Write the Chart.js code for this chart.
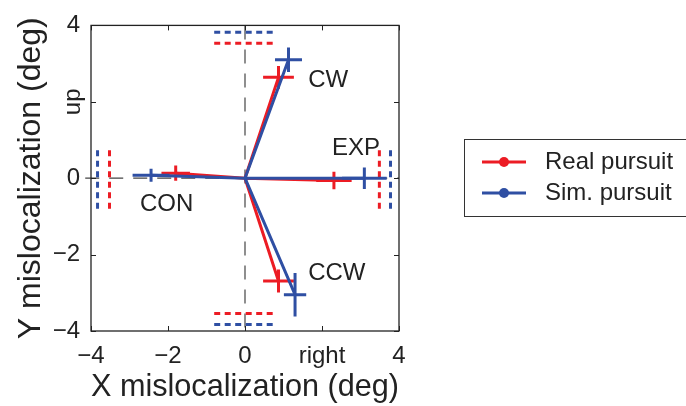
<!DOCTYPE html>
<html>
<head>
<meta charset="utf-8">
<script src="https://cdn.jsdelivr.net/npm/chart.js@4.4.1/dist/chart.umd.min.js"></script>
<style>
  html, body { margin: 0; padding: 0; background: #fff; }
</style>
</head>
<body>
<canvas id="chart" width="686" height="406"></canvas>
<script>
// conditions, in the order CW, EXP, CCW, CON
const conditions = ['CW', 'EXP', 'CCW', 'CON'];
const seriesNames = ['Real pursuit', 'Sim. pursuit'];

const realX = [0.87, 2.31, 0.87, -1.8];
const realY = [2.64, -0.06, -2.69, 0.13];
const realErrX = [0.4, 0.46, 0.4, 0.37];
const realErrY = [0.3, 0.23, 0.3, 0.2];

const simX = [1.13, 3.1, 1.3, -2.44];
const simY = [3.1, 0.0, -3.05, 0.08];
const simErrX = [0.35, 0.58, 0.29, 0.48];
const simErrY = [0.32, 0.28, 0.57, 0.17];

// dotted reference marks: top (y), right (x), bottom (y), left (x)
const realRef = [3.53, 3.49, -3.54, -3.52];
const simRef = [3.82, 3.78, -3.83, -3.83];
const refHalf = 0.8;

// where the condition names sit (left edge, middle)
const labelX = [1.64, 2.26, 1.64, -2.73];
const labelY = [2.57, 0.77, -2.5, -0.69];

const tickValues = [-4, -2, 0, 2, 4];
const xTickLabels = ['\u22124', '\u22122', '0', 'right', '4'];
const yTickLabels = ['\u22124', '\u22122', '0', 'up', '4'];

const RED = '#ec1c24';
const BLUE = '#2f4fa3';
const INK = '#222';
const FONT = '"Liberation Sans", Arial, Helvetica, sans-serif';

function star(xs, ys) {
  const pts = [];
  xs.forEach((x, i) => {
    pts.push({x: 0, y: 0}, {x: x, y: ys[i]}, {x: x, y: null});
  });
  return pts;
}

function crosses(xs, ys, ex, ey) {
  const pts = [];
  xs.forEach((x, i) => {
    pts.push({x: x - ex[i], y: ys[i]}, {x: x + ex[i], y: ys[i]}, {x: x, y: null});
    pts.push({x: x, y: ys[i] - ey[i]}, {x: x, y: ys[i] + ey[i]}, {x: x, y: null});
  });
  return pts;
}

function refMarks(p) {
  return [
    {x: -refHalf, y: p[0]}, {x: refHalf, y: p[0]}, {x: 0, y: null},
    {x: p[1], y: -refHalf}, {x: p[1], y: refHalf}, {x: 0, y: null},
    {x: -refHalf, y: p[2]}, {x: refHalf, y: p[2]}, {x: 0, y: null},
    {x: p[3], y: -refHalf}, {x: p[3], y: refHalf}
  ];
}

const lineDs = (data, color, width, extra) => Object.assign({
  data: data, borderColor: color, backgroundColor: color, borderWidth: width,
  pointRadius: 0, tension: 0, spanGaps: false, fill: false
}, extra || {});

// first dataset is drawn on top
const datasets = [
  lineDs(star(simX, simY), BLUE, 3),
  lineDs(crosses(simX, simY, simErrX, simErrY), BLUE, 3),
  lineDs(star(realX, realY), RED, 3),
  lineDs(crosses(realX, realY, realErrX, realErrY), RED, 3),
  lineDs(refMarks(simRef), BLUE, 3, {borderDash: [6, 4.5]}),
  lineDs(refMarks(realRef), RED, 3, {borderDash: [6, 4.5]}),
  lineDs([{x: -4.15, y: 0}, {x: 4, y: 0}], '#444', 1.2, {borderDash: [14, 10], clip: false}),
  lineDs([{x: 0, y: 4}, {x: 0, y: -4}], '#444', 1.2, {borderDash: [14, 10]})
];

const decor = {
  id: 'decor',
  afterDraw(chart) {
    const ctx = chart.ctx;
    const a = chart.chartArea;
    const sx = chart.scales.x, sy = chart.scales.y;
    ctx.save();
    // frame
    ctx.strokeStyle = INK;
    ctx.lineWidth = 1.3;
    ctx.strokeRect(a.left, a.top, a.right - a.left, a.bottom - a.top);
    // inward ticks on all sides
    ctx.lineWidth = 1;
    ctx.beginPath();
    tickValues.forEach(v => {
      const px = Math.round(sx.getPixelForValue(v)) + 0.5;
      ctx.moveTo(px, a.top); ctx.lineTo(px, a.top + 5);
      ctx.moveTo(px, a.bottom); ctx.lineTo(px, a.bottom - 5);
      const py = Math.round(sy.getPixelForValue(v)) + 0.5;
      ctx.moveTo(a.left, py); ctx.lineTo(a.left + 5, py);
      ctx.moveTo(a.right, py); ctx.lineTo(a.right - 5, py);
    });
    ctx.stroke();

    // rotated 'up' tick label
    ctx.fillStyle = INK;
    ctx.font = '24px ' + FONT;
    ctx.save();
    ctx.translate(73, sy.getPixelForValue(2));
    ctx.rotate(-Math.PI / 2);
    ctx.textAlign = 'center';
    ctx.textBaseline = 'middle';
    ctx.fillText(yTickLabels[3], 0, 0);
    ctx.restore();

    // condition names
    ctx.textAlign = 'left';
    ctx.textBaseline = 'middle';
    conditions.forEach((c, i) => {
      ctx.fillText(c, sx.getPixelForValue(labelX[i]), sy.getPixelForValue(labelY[i]));
    });

    // legend box
    ctx.strokeStyle = '#333';
    ctx.lineWidth = 1;
    ctx.strokeRect(464.5, 139.5, 240, 77);
    [RED, BLUE].forEach((col, i) => {
      const y = 162 + i * 31;
      ctx.strokeStyle = col;
      ctx.fillStyle = col;
      ctx.lineWidth = 3;
      ctx.beginPath();
      ctx.moveTo(482, y); ctx.lineTo(526, y);
      ctx.stroke();
      ctx.beginPath();
      ctx.arc(504, y, 5, 0, Math.PI * 2);
      ctx.fill();
      ctx.fillStyle = INK;
      ctx.fillText(seriesNames[i], 545, y);
    });
    ctx.restore();
  }
};

new Chart(document.getElementById('chart'), {
  type: 'line',
  data: { datasets: datasets },
  plugins: [decor],
  options: {
    responsive: false,
    animation: false,
    layout: { padding: { left: 0, top: 22, right: 287, bottom: 0 } },
    plugins: { legend: { display: false }, tooltip: { enabled: false } },
    scales: {
      x: {
        type: 'linear', min: -4, max: 4,
        afterFit: s => { s.height = 75; },
        afterBuildTicks: s => { s.ticks = tickValues.map(v => ({value: v})); },
        grid: { display: false, drawTicks: false },
        border: { display: false },
        ticks: {
          callback: v => xTickLabels[tickValues.indexOf(v)],
          font: { size: 24, family: FONT }, color: INK, padding: 11,
          maxRotation: 0, autoSkip: false
        },
        title: {
          display: true, text: 'X mislocalization (deg)', color: INK,
          font: { size: 32, family: FONT }, padding: { top: 0, bottom: 0 }
        }
      },
      y: {
        type: 'linear', min: -4, max: 4,
        afterFit: s => { s.width = 91; },
        afterBuildTicks: s => { s.ticks = tickValues.map(v => ({value: v})); },
        grid: { display: false, drawTicks: false },
        border: { display: false },
        ticks: {
          callback: v => v === 2 ? '' : yTickLabels[tickValues.indexOf(v)],
          font: { size: 24, family: FONT }, color: INK, padding: 11,
          autoSkip: false
        },
        title: {
          display: true, text: 'Y mislocalization (deg)', color: INK,
          font: { size: 32, family: FONT }, padding: { top: 12, bottom: 0 }
        }
      }
    }
  }
});
</script>
</body>
</html>
